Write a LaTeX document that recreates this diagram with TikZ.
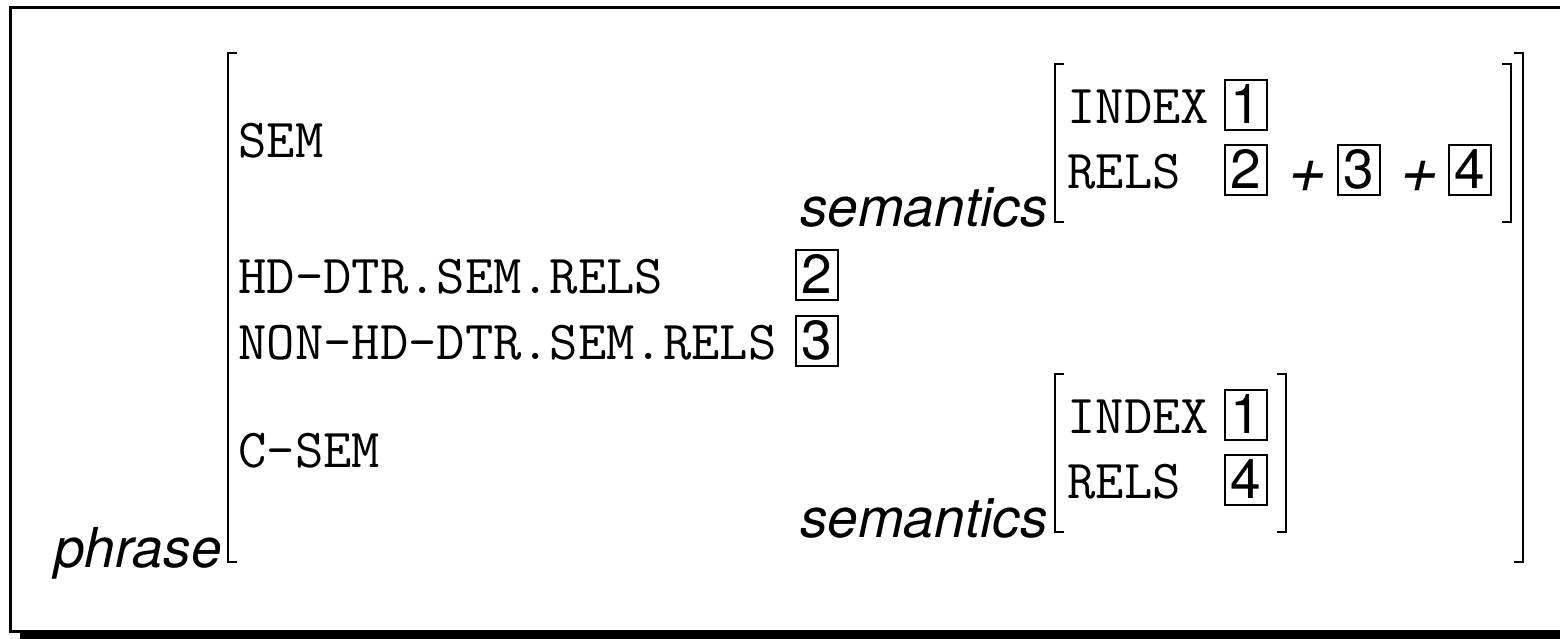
\documentclass[tikz,border=0pt]{standalone}
\usepackage{fontspec}
\setsansfont{TeX Gyre Heros}
\newfontfamily\slantsf{TeX Gyre Heros}[FakeSlant=0.22]
\usepackage{tikz}
\usetikzlibrary{positioning}

\newcommand{\avmsize}{\fontsize{27.5}{33}\selectfont}

\tikzset{every node/.style={inner sep=0pt},
         attr/.style={anchor=base west, font=\avmsize\ttfamily},
         type/.style={anchor=base east, font=\avmsize\sffamily\itshape},
         plus/.style={anchor=center, font=\fontsize{33}{36}\selectfont\slantsf},
         tag/.style={draw, line width=1pt, anchor=base west,
                     minimum width=21pt, minimum height=25pt, text depth=1.5pt,
                     font=\avmsize\sffamily},
         brack/.style={line width=0.6pt},
         }

\begin{document}
\begin{tikzpicture}[x=0.5pt, y=-0.5pt]
    \useasboundingbox (0,0) rectangle (1560,638);
    \clip (0,0) rectangle (1560,638);

    % shadowed frame
    \fill[black] (20,17) rectangle (1590,650);
    \draw[line width=1.5pt, fill=white] (10,7) rectangle (1580,631);

    % outer feature structure
    \node[type] (phrase) at (222,567) {phrase};
    \draw[brack] (237,53) -- (228,53) -- (228,562) -- (237,562);
    \draw[brack] (1514,53) -- (1523,53) -- (1523,562) -- (1514,562);

    \node[attr] (sem)   at (238,157) {SEM};
    \node[attr] (hdrel) at (238,293) {HD-DTR.SEM.RELS};
    \node[attr] (nhrel) at (238,359) {NON-HD-DTR.SEM.RELS};
    \node[attr] (csem)  at (238,467) {C-SEM};

    \node[tag] (hdtag) at (795,293) {2};
    \node[tag] (nhtag) at (795,359) {3};

    % value of SEM
    \node[type] (semtype) at (1048,226) {semantics};
    \draw[brack] (1064,64) -- (1055,64) -- (1055,222) -- (1064,222);
    \draw[brack] (1502,64) -- (1511,64) -- (1511,222) -- (1502,222);
    \node[attr] (semidx) at (1067,123) {INDEX};
    \node[attr] (semrel) at (1067,188) {RELS};
    \node[tag] (semidxtag) at (1224,123) {1};
    \node[tag] (semtag2) at (1224,188) {2};
    \node[plus] (plusa) at (1305,177) {+};
    \node[tag] (semtag3) at (1337,188) {3};
    \node[plus] (plusb) at (1417,177) {+};
    \node[tag] (semtag4) at (1448,188) {4};

    % value of C-SEM
    \node[type] (csemtype) at (1048,537) {semantics};
    \draw[brack] (1064,374) -- (1055,374) -- (1055,532) -- (1064,532);
    \draw[brack] (1277,374) -- (1286,374) -- (1286,532) -- (1277,532);
    \node[attr] (csemidx) at (1067,433) {INDEX};
    \node[attr] (csemrel) at (1067,498) {RELS};
    \node[tag] (csemidxtag) at (1224,433) {1};
    \node[tag] (csemreltag) at (1224,498) {4};
\end{tikzpicture}
\end{document}
